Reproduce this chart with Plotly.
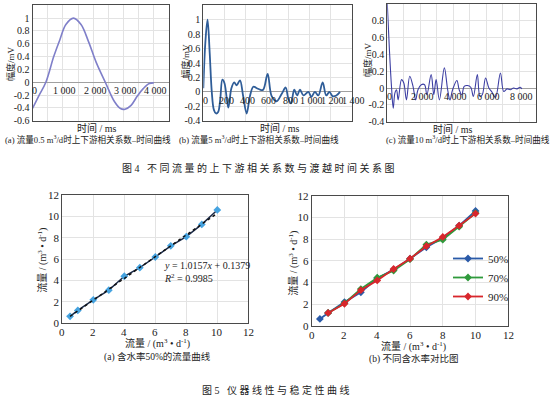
import plotly.graph_objects as go

W, H = 554, 399
FONT = "Liberation Serif, Noto Sans CJK SC, serif"

# ---------------- Fig.4 data ----------------
a_t = [0, 200, 440, 700, 900, 1100, 1350, 1600, 1850, 2100, 2400, 2700, 2900, 3050, 3250, 3450, 3650, 3850, 4000]
a_y = [-0.41, -0.22, 0.0, 0.4, 0.66, 0.9, 1.0, 0.9, 0.63, 0.31, 0.0, -0.3, -0.41, -0.42, -0.36, -0.22, -0.1, -0.02, -0.01]

b_t = [0, 20, 40, 60, 80, 100, 120, 140, 160, 180, 200, 236, 265, 292, 315, 346, 375, 409, 440, 472, 505, 535,
       565, 607, 645, 692, 739, 777, 800, 827, 858, 885, 912, 945, 991, 1020, 1053, 1085, 1126, 1160, 1190, 1220,
       1255, 1290]
b_y = [0.05, 0.7, 1.0, 0.55, 0.0, -0.25, -0.3, -0.28, -0.1, 0.17, 0.12, -0.22, 0.05, 0.13, 0.09, 0.16, -0.05, -0.3,
       -0.06, 0.07, 0.05, 0.03, 0.03, 0.25, -0.06, -0.13, -0.03, 0.06, -0.08, -0.16, 0.03, -0.05, 0.03, -0.05, 0.0,
       -0.07, 0.0, -0.05, 0.13, -0.05, 0.0, -0.06, -0.05, 0.0]

c_t = [0, 130, 260, 360, 460, 560, 660, 860, 1000, 1160, 1360, 1560, 1720, 1860, 2060, 2260, 2400, 2660, 2820,
       2960, 3160, 3460, 3660, 3800, 3960, 4220, 4360, 4520, 4660, 4860, 5060, 5220, 5460, 5620, 5760, 5960, 6160,
       6320, 6560, 6860, 7060, 7260, 7460, 7660, 7860, 8060, 8160]
c_y = [1.0, 0.45, 0.0, -0.24, -0.06, -0.02, -0.14, 0.10, 0.06, -0.14, 0.14, 0.02, -0.14, -0.02, 0.04, 0.04, -0.08,
       0.16, -0.08, 0.10, -0.14, 0.24, -0.02, -0.14, -0.02, 0.09, -0.02, -0.08, 0.02, 0.03, 0.01, -0.10, 0.16,
       -0.10, -0.08, 0.12, 0.0, -0.04, -0.11, 0.18, -0.04, -0.01, -0.02, 0.0, -0.01, 0.01, -0.01]

a_xticks = [0, 1000, 2000, 3000, 4000]
a_xticktext = ["0", "1 000", "2 000", "3 000", "4 000"]
a_xgrid = [0, 500, 1000, 1500, 2000, 2500, 3000, 3500, 4000, 4500]
a_yticks = [-0.6, -0.4, -0.2, 0, 0.2, 0.4, 0.6, 0.8, 1.0, 1.2]
a_yticktext = ["-0.6", "-0.4", "-0.2", "0", "0.2", "0.4", "0.6", "0.8", "1", "1.2"]

b_xticks = [0, 200, 400, 600, 800, 1000, 1200, 1400]
b_xticktext = ["0", "200", "400", "600", "800", "1 000", "1 200", "1 400"]
b_yticks = [-0.4, -0.2, 0, 0.2, 0.4, 0.6, 0.8, 1.0, 1.2]
b_yticktext = ["-0.4", "-0.2", "0", "0.2", "0.4", "0.6", "0.8", "1", "1.2"]

c_xticks = [0, 2000, 4000, 6000, 8000]
c_xticktext = ["0", "2 000", "4 000", "6 000", "8 000"]
c_xgrid = [0, 1000, 2000, 3000, 4000, 5000, 6000, 7000, 8000, 9000]
c_yticks = [-0.4, -0.2, 0, 0.2, 0.4, 0.6, 0.8, 1.0]
c_yticktext = ["-0.4", "-0.2", "0", "0.2", "0.4", "0.6", "0.8", "1"]

# ---------------- Fig.5 data ----------------
flow_set_50 = [0.5, 1, 2, 3, 4, 5, 6, 7, 8, 9, 10]
flow_meas_50 = [0.65, 1.2, 2.2, 3.1, 4.4, 5.2, 6.2, 7.25, 8.1, 9.25, 10.6]
flow_set_70 = [1, 2, 3, 4, 5, 6, 7, 8, 9, 10]
flow_meas_70 = [1.2, 2.1, 3.4, 4.45, 5.1, 6.15, 7.5, 7.95, 9.15, 10.4]
flow_set_90 = [1, 2, 3, 4, 5, 6, 7, 8, 9, 10]
flow_meas_90 = [1.2, 2.05, 3.3, 4.2, 5.25, 6.2, 7.35, 8.2, 9.25, 10.35]
fit_slope, fit_intercept = 1.0157, 0.1379
fit_r2 = 0.9985
f5_ticks = [0, 2, 4, 6, 8, 10, 12]
f5_ticktext = ["0", "2", "4", "6", "8", "10", "12"]
series_names = ["50%", "70%", "90%"]


def xd(a, b):
    return [a / W, b / W]


def yd(top, bottom):
    return [1 - bottom / H, 1 - top / H]


def px(x):
    return x / W


def py(y):
    return 1 - y / H


fig = go.Figure()

# Fig 4 curves
fig.add_trace(go.Scatter(x=a_t, y=a_y, mode="lines", line=dict(color="#7f7fc9", width=1.6, shape="spline"),
                         xaxis="x", yaxis="y", showlegend=False))
fig.add_trace(go.Scatter(x=b_t, y=b_y, mode="lines", line=dict(color="#2f5d98", width=1.8, shape="spline"),
                         xaxis="x2", yaxis="y2", showlegend=False))
fig.add_trace(go.Scatter(x=c_t, y=c_y, mode="lines", line=dict(color="#3d3fa3", width=1.1, shape="spline"),
                         xaxis="x3", yaxis="y3", showlegend=False))

# Fig 5a
fit_x = [flow_set_50[0], flow_set_50[-1]]
fit_y = [fit_slope * v + fit_intercept for v in fit_x]
fig.add_trace(go.Scatter(x=flow_set_50, y=flow_meas_50, mode="lines+markers",
                         line=dict(color="#1b2a48", width=1.5),
                         marker=dict(color="#45a3e0", size=6, symbol="diamond"),
                         xaxis="x4", yaxis="y4", showlegend=False))
fig.add_trace(go.Scatter(x=fit_x, y=fit_y, mode="lines", line=dict(color="#111111", width=1.5, dash="dot"),
                         xaxis="x4", yaxis="y4", showlegend=False))

# Fig 5b
for name, xs, ys, col in [(series_names[0], flow_set_50, flow_meas_50, "#2a5aa8"),
                          (series_names[1], flow_set_70, flow_meas_70, "#2f9a3c"),
                          (series_names[2], flow_set_90, flow_meas_90, "#d8262c")]:
    fig.add_trace(go.Scatter(x=xs, y=ys, mode="lines+markers", name=name,
                             line=dict(color=col, width=1.8),
                             marker=dict(color=col, size=6, symbol="diamond"),
                             xaxis="x5", yaxis="y5", showlegend=True))

grid = "#e3e3e3"
border = "#4a4a4a"
tickfont = dict(family=FONT, size=10, color="#222")


def frame(**kw):
    d = dict(showline=True, mirror=True, linecolor=border, linewidth=1, showgrid=True, gridcolor=grid,
             gridwidth=1, ticks="", tickfont=tickfont, zeroline=False, automargin=False)
    d.update(kw)
    return d


f5font = dict(family=FONT, size=11, color="#222")
layout = dict(
    template="none",
    width=W, height=H, autosize=False,
    margin=dict(l=0, r=0, t=0, b=0, pad=0),
    paper_bgcolor="white", plot_bgcolor="white",
    font=dict(family=FONT, size=10, color="#222"),
    xaxis=frame(domain=xd(32.5, 169), range=[0, 4500], tickmode="array", tickvals=a_xgrid,
                showticklabels=False, anchor="y"),
    yaxis=frame(domain=yd(5.3, 120.7), range=[-0.6, 1.2], tickmode="array", tickvals=a_yticks,
                ticktext=a_yticktext, anchor="x", zeroline=True, zerolinecolor="#a0a0a0", zerolinewidth=1),
    xaxis2=frame(domain=xd(203.3, 351.7), range=[0, 1400], tickmode="array", tickvals=b_xticks,
                 showticklabels=False, anchor="y2"),
    yaxis2=frame(domain=yd(5.3, 120.7), range=[-0.4, 1.2], tickmode="array", tickvals=b_yticks,
                 ticktext=b_yticktext, anchor="x2", zeroline=True, zerolinecolor="#a0a0a0", zerolinewidth=1),
    xaxis3=frame(domain=xd(387.3, 535.7), range=[0, 9000], tickmode="array", tickvals=c_xgrid,
                 showticklabels=False, anchor="y3"),
    yaxis3=frame(domain=yd(4, 121.7), range=[-0.4, 1.0], tickmode="array", tickvals=c_yticks,
                 ticktext=c_yticktext, anchor="x3", zeroline=True, zerolinecolor="#a0a0a0", zerolinewidth=1),
    xaxis4=frame(domain=xd(62.3, 248.3), range=[0, 12], tickmode="array", tickvals=f5_ticks, anchor="y4",
                 showticklabels=False),
    yaxis4=frame(domain=yd(195, 323.3), range=[0, 12], tickmode="array", tickvals=f5_ticks,
                 ticktext=f5_ticktext, anchor="x4", tickfont=f5font),
    xaxis5=frame(domain=xd(311.7, 508.3), range=[0, 12], tickmode="array", tickvals=f5_ticks, anchor="y5",
                 showticklabels=False),
    yaxis5=frame(domain=yd(195.7, 326), range=[0, 12], tickmode="array", tickvals=f5_ticks,
                 ticktext=f5_ticktext, anchor="x5", tickfont=f5font),
    legend=dict(x=px(448), y=py(244), xanchor="left", yanchor="top", bgcolor="rgba(255,255,255,0)",
                font=dict(family=FONT, size=11, color="#222"), itemwidth=30, tracegroupgap=0),
)
fig.update_layout(**layout)

ann = []
# x tick labels at zero line (Fig 4)
for xr, yr, vals, texts in [("x", "y", a_xticks, a_xticktext), ("x2", "y2", b_xticks, b_xticktext),
                            ("x3", "y3", c_xticks, c_xticktext)]:
    for v, t in zip(vals, texts):
        ann.append(dict(x=v, y=0, xref=xr, yref=yr, text=t, showarrow=False, xanchor="center", yanchor="top",
                        xshift=2, yshift=-1, font=dict(family=FONT, size=10, color="#222")))

# x tick labels (Fig 5)
for xr, yr in [("x4", "y4"), ("x5", "y5")]:
    for v, t in zip(f5_ticks, f5_ticktext):
        ann.append(dict(x=v, y=0, xref=xr, yref=yr, text=t, showarrow=False, xanchor="center", yanchor="top",
                        yshift=-1, font=f5font))


def txt(x, y, text, size=10, angle=0, xanchor="center"):
    ann.append(dict(x=px(x), y=py(y), xref="paper", yref="paper", text=text, showarrow=False,
                    xanchor=xanchor, yanchor="middle", textangle=angle,
                    font=dict(family=FONT, size=size, color="#222")))


# Fig 4 axis titles
txt(10, 64, "幅度/mV", 9, -90)
txt(185.5, 61, "幅度/mV", 9, -90)
txt(367, 60, "幅度/mV", 9, -90)
txt(97, 128, "时间 / ms", 10)
txt(280, 128, "时间 / ms", 10)
txt(453, 129, "时间 / ms", 10)
txt(88, 139.5, "(a) 流量0.5 m<sup>3</sup>/d时上下游相关系数–时间曲线", 8.6)
txt(259, 139.5, "(b) 流量5 m<sup>3</sup>/d时上下游相关系数–时间曲线", 8.6)
txt(468, 139.5, "(c) 流量10 m<sup>3</sup>/d时上下游相关系数–时间曲线", 8.6)
txt(258, 168, "图 4 &nbsp; 不 同 流 量 的 上 下 游 相 关 系 数 与 渡 越 时 间 关 系 图", 10)

# Fig 5 titles
unit = "流量 / (m<sup>3</sup> • d<sup>-1</sup>)"
txt(41.7, 260, unit, 10, -90)
txt(292.7, 263, unit, 10, -90)
txt(157, 343.5, unit, 10)
txt(413, 346.5, unit, 10)
txt(157, 357, "(a) 含水率50%的流量曲线", 9.5)
txt(413, 359, "(b) 不同含水率对比图", 9.5)
txt(276, 390, "图 5 &nbsp; 仪 器 线 性 与 稳 定 性 曲 线", 10)

# regression text
ann.append(dict(x=6.4, y=5.36, xref="x4", yref="y4", xanchor="left", yanchor="middle", showarrow=False,
                text=f"<i>y</i> = {fit_slope}<i>x</i> + {fit_intercept}",
                font=dict(family=FONT, size=10, color="#222")))
ann.append(dict(x=6.4, y=4.2, xref="x4", yref="y4", xanchor="left", yanchor="middle", showarrow=False,
                text=f"<i>R</i><sup>2</sup> = {fit_r2}",
                font=dict(family=FONT, size=10, color="#222")))

fig.update_layout(annotations=ann)
fig.write_html("out.html", config={"displayModeBar": False},
               post_script="document.body.style.margin='0';document.body.style.overflow='hidden';")
